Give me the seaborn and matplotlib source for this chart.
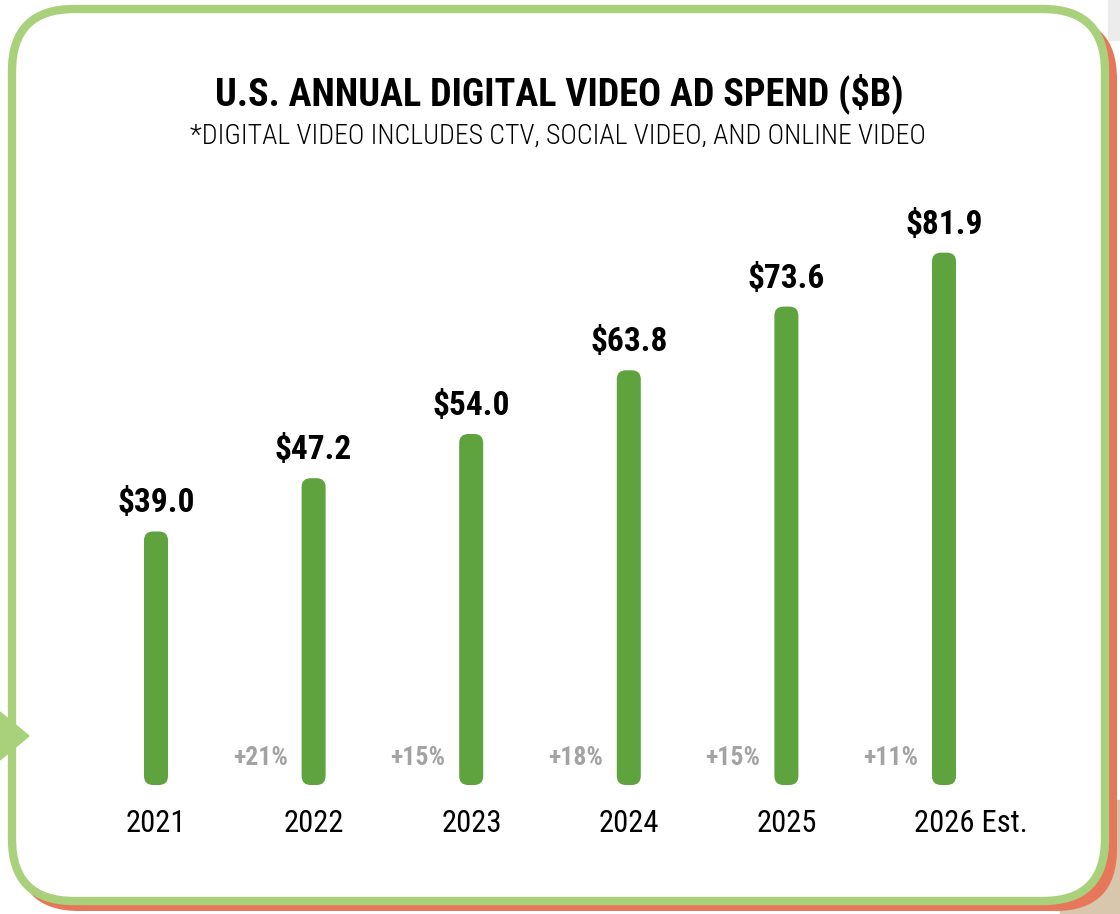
import seaborn as sns
import pandas as pd
import matplotlib.pyplot as plt
from matplotlib.patches import FancyBboxPatch, Polygon, Rectangle

# chart values
years = ['2021', '2022', '2023', '2024', '2025', '2026']
year_suffix = ['', '', '', '', '', ' Est.']
spend = [39.0, 47.2, 54.0, 63.8, 73.6, 81.9]
growth = ['', '+21%', '+15%', '+18%', '+15%', '+11%']

title = 'U.S. ANNUAL DIGITAL VIDEO AD SPEND ($B)'
subtitle = '*DIGITAL VIDEO INCLUDES CTV, SOCIAL VIDEO, AND ONLINE VIDEO'

sns.set_theme(style='white')
plt.rcParams['font.family'] = ['Roboto Condensed', 'Barlow Condensed', 'DejaVu Sans']

bar_green = '#5ea33e'
light_green = '#a9d17b'
shadow_red = '#e7775b'

W, H = 1120, 914
fig = plt.figure(figsize=(W / 100, H / 100), dpi=100)
fig.patch.set_facecolor('white')

# card, shadow and pointer drawn in pixel coordinates
bg = fig.add_axes([0, 0, 1, 1])
bg.set_xlim(0, W)
bg.set_ylim(H, 0)
bg.axis('off')
bg.add_patch(Rectangle((1060, 800), 60, 114, color='#d8c7ad', zorder=0))
bg.add_patch(Rectangle((1108, 0), 12, 40, color='#ececec', zorder=0))
bg.add_patch(FancyBboxPatch((17, 17), 1100, 894, boxstyle='round,pad=0,rounding_size=62',
                            facecolor=shadow_red, edgecolor='none', zorder=1))
bg.add_patch(FancyBboxPatch((12, 9), 1093, 892, boxstyle='round,pad=0,rounding_size=62',
                            facecolor='white', edgecolor=light_green, linewidth=6, zorder=2))
bg.add_patch(Polygon([(0, 712), (29, 736), (0, 760)], closed=True, color=light_green, zorder=3))

bg.text(559, 94, title, ha='center', va='center', fontsize=27.5, fontweight='bold', color='black', zorder=5)
bg.text(558, 136, subtitle, ha='center', va='center', fontsize=20, fontweight='light',
        color='black', zorder=5)

# main axes: category spacing 157.6 px, 6.5 px per $B, baseline at y=785
step = 157.6
px_per = 6.5
left = 156 - 0.5 * step
bottom = 785
top = 100
ax = fig.add_axes([left / W, (H - bottom) / H, 6 * step / W, (bottom - top) / H])
ax.patch.set_alpha(0)

df = pd.DataFrame({'year': years, 'spend': spend})
bar_w = 24 / step
sns.barplot(data=df, x='year', y='spend', ax=ax, color=bar_green, width=bar_w, saturation=1)
ax.set_xlim(-0.5, 5.5)
ax.set_ylim(0, (bottom - top) / px_per)

# swap the square bars for rounded ones
aspect = (1 / px_per) / (1 / step)
for p in list(ax.patches):
    x0, y0 = p.get_x(), p.get_y()
    w, h = p.get_width(), p.get_height()
    p.remove()
    ax.add_patch(FancyBboxPatch((x0, y0), w, h,
                                boxstyle='round,pad=0,rounding_size={}'.format(9 / step),
                                mutation_aspect=aspect, facecolor=bar_green, edgecolor='none'))

for i, v in enumerate(spend):
    ax.text(i, v + 12 / px_per, '${:.1f}'.format(v), ha='center', va='bottom',
            fontsize=24, fontweight='bold', color='black')
    if growth[i]:
        ax.text(i - 26 / step, 27 / px_per, growth[i], ha='right', va='center',
                fontsize=18.5, fontweight='bold', color='#a3a3a3')
    ax.text(i - 30 / step, -38 / px_per, years[i] + year_suffix[i], ha='left', va='center',
            fontsize=22, color='black', clip_on=False)

ax.set_xticks([])
ax.set_yticks([])
ax.set_xlabel('')
ax.set_ylabel('')
sns.despine(ax=ax, left=True, bottom=True)

fig.savefig('out.png', dpi=100)
